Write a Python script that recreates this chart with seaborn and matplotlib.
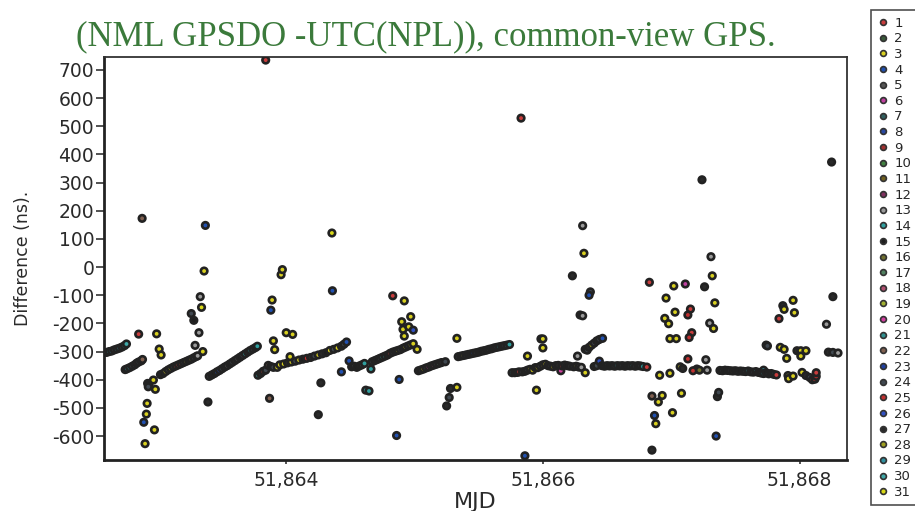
import numpy as np
import pandas as pd
import matplotlib
matplotlib.use("Agg")
import matplotlib.pyplot as plt
from matplotlib.lines import Line2D
from matplotlib.ticker import FuncFormatter
import seaborn as sns

# ---------------- data ----------------
prn_labels = [str(i) for i in range(1, 32)]
prn_colors = ["#c83c3c", "#3a5a3a", "#d8d020", "#2050b0", "#555555", "#c040a0",
              "#306060", "#2848a0", "#a03030", "#408040", "#706020", "#803060",
              "#9a9a9a", "#30a0a0", "#1e1e1e", "#707030", "#508060", "#b05070",
              "#a0b030", "#d040a0", "#309090", "#806050", "#2040a0", "#404850",
              "#c03030", "#3050c0", "#2a2a2a", "#a0a020", "#3090a0", "#40a8a8",
              "#d8d818"]

# day 51862.6 - 51863.03
r1_mjd = [51862.600, 51862.620, 51862.640, 51862.660, 51862.680, 51862.700, 51862.720, 51862.740, 51862.755,
          51862.745, 51862.760, 51862.780, 51862.800, 51862.820, 51862.835, 51862.850, 51862.870, 51862.880,
          51862.877, 51862.850, 51862.920, 51862.930, 51862.925, 51862.965, 51862.980, 51862.916, 51862.910,
          51862.890, 51862.900, 51862.973, 51862.990, 51863.010, 51863.025]
r1_ns = [-303, -300, -298, -294, -291, -288, -284, -279, -273,
         -364, -361, -357, -352, -347, -341, -337, -333, -328,
         173, -238, -413, -418, -425, -401, -434, -484, -522,
         -551, -627, -578, -237, -291, -312]
r1_prn = [24, 14, 29, 24, 14, 29, 24, 14, 30,
          27, 14, 14, 24, 5, 1, 24, 5, 22,
          22, 1, 27, 15, 24, 3, 3, 3, 3,
          4, 3, 3, 3, 3, 3]

# day 51863.02 - 51863.40
r2_mjd = [51863.020, 51863.040, 51863.060, 51863.080, 51863.100, 51863.120, 51863.140, 51863.160,
          51863.180, 51863.200, 51863.220, 51863.240, 51863.260, 51863.280, 51863.300,
          51863.260, 51863.280, 51863.320, 51863.290, 51863.310, 51863.330, 51863.340, 51863.360,
          51863.370, 51863.350, 51863.390]
r2_ns = [-382, -378, -371, -365, -360, -355, -351, -347,
         -343, -339, -335, -331, -327, -322, -317,
         -165, -189, -233, -278, -315, -105, -143, -14,
         148, -300, -479]
r2_prn = [27, 15, 3, 24, 31, 24, 25, 1,
          9, 24, 16, 27, 11, 24, 22,
          24, 15, 13, 13, 13, 13, 31, 3,
          4, 3, 27]

# day 51863.40 - 51863.78
r3_mjd = [51863.400, 51863.420, 51863.440, 51863.460, 51863.480, 51863.500, 51863.520, 51863.540,
          51863.560, 51863.580, 51863.600, 51863.620, 51863.640, 51863.660, 51863.680, 51863.700,
          51863.720, 51863.740, 51863.760, 51863.775]
r3_ns = [-388, -383, -378, -372, -367, -361, -355, -350,
         -344, -338, -332, -326, -320, -314, -308, -302,
         -296, -291, -286, -281]
r3_prn = [24, 27, 15, 4, 8, 24, 27, 5,
          15, 24, 27, 5, 15, 24, 14, 27,
          21, 24, 15, 14]

# day 51863.78 - 51864.52
r4_mjd = [51863.780, 51863.800, 51863.820, 51863.840, 51863.860, 51863.880, 51863.900, 51863.930,
          51863.950, 51863.980, 51864.010, 51864.040, 51864.070, 51864.100, 51864.130, 51864.160,
          51864.190, 51864.220, 51864.250, 51864.280, 51864.310, 51864.340, 51864.370, 51864.400,
          51864.430, 51864.450, 51864.470,
          51864.030, 51864.490, 51864.430, 51864.510,
          51863.870, 51863.880, 51863.890, 51863.900, 51863.910, 51863.960, 51863.970, 51864.000,
          51864.050, 51864.270, 51864.250, 51864.356, 51864.360, 51863.840]
r4_ns = [-384, -378, -370, -366, -349, -353, -356, -356,
         -347, -344, -340, -337, -334, -330, -327, -324,
         -321, -316, -312, -308, -304, -296, -292, -287,
         -281, -274, -266,
         -318, -333, -372, -354,
         -466, -153, -117, -262, -293, -27, -9, -233,
         -239, -411, -524, 121, -84, 735]
r4_prn = [14, 27, 1, 24, 22, 27, 24, 3,
          3, 3, 27, 3, 24, 3, 15, 25,
          27, 24, 3, 27, 15, 3, 24, 3,
          27, 24, 4,
          3, 4, 4, 27,
          22, 4, 3, 3, 3, 3, 3, 3,
          3, 27, 27, 31, 4, 1]

# day 51864.50 - 51865.03
r5_mjd = [51864.530, 51864.550, 51864.570, 51864.590, 51864.610, 51864.660, 51864.620, 51864.645,
          51864.670, 51864.690, 51864.710, 51864.730, 51864.750, 51864.770, 51864.790, 51864.810,
          51864.830, 51864.850, 51864.870, 51864.890, 51864.910, 51864.930, 51864.950, 51864.970,
          51864.990,
          51864.830, 51864.920, 51864.970, 51864.900, 51864.910, 51864.955, 51864.990, 51864.920,
          51865.020, 51864.880, 51864.860]
r5_ns = [-352, -356, -351, -347, -342, -362, -437, -440,
         -336, -332, -328, -324, -320, -316, -312, -306,
         -302, -299, -296, -293, -288, -284, -280, -276,
         -272,
         -102, -120, -176, -194, -221, -212, -224, -245,
         -292, -399, -598]
r5_prn = [24, 15, 27, 24, 14, 14, 14, 14,
          24, 27, 15, 24, 14, 14, 27, 1,
          24, 27, 3, 24, 27, 3, 24, 3,
          3,
          1, 3, 3, 3, 3, 3, 26, 3,
          3, 4, 4]

# day 51865.03 - 51865.75
r6_mjd = [51865.030, 51865.050, 51865.070, 51865.090, 51865.110, 51865.130, 51865.150, 51865.170,
          51865.190, 51865.210, 51865.240,
          51865.250, 51865.270, 51865.280, 51865.330, 51865.330,
          51865.340, 51865.360, 51865.380, 51865.400, 51865.420, 51865.440, 51865.460, 51865.480,
          51865.500, 51865.520, 51865.540, 51865.560, 51865.580, 51865.600, 51865.620, 51865.640,
          51865.660, 51865.680, 51865.700, 51865.720, 51865.740]
r6_ns = [-368, -365, -362, -358, -355, -351, -348, -345,
         -342, -339, -336,
         -493, -463, -431, -427, -253,
         -318, -316, -314, -312, -310, -308, -306, -304,
         -302, -299, -297, -295, -292, -290, -287, -285,
         -283, -281, -279, -277, -275]
r6_prn = [27, 24, 3, 24, 20, 27, 18, 24,
          17, 27, 24,
          27, 24, 27, 3, 3,
          24, 27, 16, 24, 27, 15, 4, 24,
          27, 15, 24, 27, 24, 15, 27, 24,
          14, 27, 24, 30, 14]

# day 51865.76 - 51866.47
r7_mjd = [51865.760, 51865.780, 51865.800, 51865.815, 51865.840, 51865.860, 51865.880, 51865.900,
          51865.920, 51865.940, 51865.960, 51865.980, 51866.000, 51866.020, 51866.040, 51866.060,
          51866.080, 51866.100, 51866.120, 51866.140, 51866.150, 51866.170, 51866.190, 51866.210,
          51866.240, 51866.260, 51866.280, 51866.300, 51866.330,
          51865.830, 51865.860, 51865.880, 51865.950, 51865.985, 51866.000, 51866.000,
          51866.310, 51866.320, 51866.230, 51866.370, 51866.360, 51866.290, 51866.310, 51866.270,
          51866.330,
          51866.345, 51866.360, 51866.380, 51866.400, 51866.420, 51866.440, 51866.465]
r7_ns = [-375, -375, -374, -372, -372, -370, -366, -363,
         -366, -357, -357, -352, -347, -345, -350, -352,
         -354, -350, -349, -368, -351, -348, -350, -352,
         -354, -352, -355, -356, -375,
         529, -670, -316, -437, -255, -255, -287,
         147, 49, -31, -88, -100, -170, -173, -316,
         -292,
         -295, -285, -277, -270, -262, -257, -253]
r7_prn = [14, 27, 24, 1, 24, 27, 24, 3,
          3, 27, 3, 24, 3, 3, 27, 24,
          3, 24, 27, 20, 1, 24, 15, 27,
          24, 16, 13, 13, 3,
          1, 4, 3, 3, 3, 3, 3,
          13, 3, 27, 24, 4, 27, 13, 13,
          3,
          24, 27, 3, 24, 27, 24, 4]

# day 51866.40 - 51866.81
r8_mjd = [51866.400, 51866.420, 51866.440, 51866.460, 51866.480, 51866.500, 51866.520, 51866.540,
          51866.560, 51866.580, 51866.600, 51866.620, 51866.640, 51866.660, 51866.680, 51866.700,
          51866.720, 51866.740, 51866.760, 51866.780, 51866.810]
r8_ns = [-353, -350, -334, -350, -352, -350, -351, -350,
         -352, -350, -351, -350, -352, -350, -351, -350,
         -352, -350, -351, -353, -355]
r8_prn = [27, 24, 26, 15, 27, 24, 27, 15,
          24, 14, 27, 24, 15, 27, 24, 14,
          24, 27, 24, 14, 1]

# day 51866.83 - 51867.37 (scattered tracks)
r9_mjd = [51866.830, 51867.020, 51867.110, 51867.260, 51866.960, 51867.030, 51867.150, 51867.130,
          51866.950, 51866.980, 51866.990, 51867.040, 51867.160, 51867.140, 51867.300, 51867.330,
          51867.340, 51867.320, 51867.310, 51867.240, 51867.130, 51867.270, 51867.200, 51867.170,
          51867.220, 51867.280, 51867.070, 51867.090, 51866.990, 51866.910, 51866.850, 51866.930,
          51866.900, 51867.080, 51867.010, 51866.870, 51866.880, 51867.350, 51866.850, 51867.360,
          51867.370]
r9_ns = [-54, -67, -60, -70, -110, -160, -149, -170,
         -182, -201, -254, -254, -233, -250, -199, -218,
         -127, -31, 37, 310, -326, -329, -362, -368,
         -366, -366, -354, -360, -377, -384, -458, -456,
         -479, -448, -517, -527, -556, -600, -650, -460,
         -445]
r9_prn = [1, 3, 6, 27, 3, 3, 1, 25,
          3, 3, 3, 3, 1, 25, 13, 3,
          3, 3, 13, 27, 25, 13, 1, 25,
          16, 13, 3, 27, 3, 3, 22, 3,
          3, 3, 3, 4, 3, 4, 27, 27,
          24]

# day 51867.38 - 51868.37
r10_mjd = [51867.380, 51867.400, 51867.420, 51867.440, 51867.460, 51867.480, 51867.500, 51867.520,
           51867.540, 51867.560, 51867.580, 51867.600, 51867.620, 51867.640, 51867.660, 51867.680,
           51867.700, 51867.720, 51867.720, 51867.740, 51867.760, 51867.780, 51867.800, 51867.820,
           51867.740, 51867.750, 51867.840, 51867.870, 51867.880, 51867.950, 51867.960, 51867.850,
           51867.880, 51867.900, 51867.980, 51868.010, 51868.050, 51868.010, 51867.910, 51867.915,
           51867.950, 51868.020, 51868.050, 51868.080, 51868.100, 51868.120, 51868.130, 51868.130,
           51868.250, 51868.260, 51868.210, 51868.225, 51868.260, 51868.300]
r10_ns = [-367, -368, -366, -367, -368, -369, -368, -370,
          -369, -370, -371, -369, -372, -373, -371, -374,
          -376, -366, -378, -375, -379, -378, -381, -383,
          -277, -280, -183, -137, -150, -118, -162, -285,
          -292, -324, -297, -297, -297, -316, -385, -396,
          -387, -374, -385, -392, -400, -398, -388, -375,
          373, -105, -203, -302, -303, -305]
r10_prn = [27, 24, 15, 27, 24, 16, 27, 24,
           15, 27, 24, 14, 27, 24, 14, 27,
           24, 29, 14, 15, 24, 27, 14, 1,
           29, 24, 1, 27, 3, 3, 3, 3,
           3, 3, 27, 3, 3, 3, 16, 3,
           3, 3, 27, 24, 25, 1, 25, 1,
           27, 27, 13, 27, 24, 13]

title_text = "(NML GPSDO -UTC(NPL)), common-view GPS."
x_label = "MJD"
y_label = "Difference (ns)."
x_ticks = [51864, 51866, 51868]
y_ticks = list(range(-600, 701, 100))

# ---------------- build table ----------------
frames = []
for m, v, p in [(r1_mjd, r1_ns, r1_prn), (r2_mjd, r2_ns, r2_prn), (r3_mjd, r3_ns, r3_prn),
                (r4_mjd, r4_ns, r4_prn), (r5_mjd, r5_ns, r5_prn), (r6_mjd, r6_ns, r6_prn),
                (r7_mjd, r7_ns, r7_prn), (r8_mjd, r8_ns, r8_prn), (r9_mjd, r9_ns, r9_prn),
                (r10_mjd, r10_ns, r10_prn)]:
    frames.append(pd.DataFrame({"MJD": m, "Difference": v, "PRN": [str(q) for q in p]}))
df = pd.concat(frames, ignore_index=True)
palette = dict(zip(prn_labels, prn_colors))

# ---------------- style ----------------
sns.set_style("ticks")
plt.rcParams["font.family"] = ["DejaVu Sans"]
plt.rcParams["axes.unicode_minus"] = False

W, H = 915, 511
fig = plt.figure(figsize=(W / 100, H / 100), dpi=100)
fig.patch.set_facecolor("white")
ax = fig.add_axes([104 / W, 51 / H, 743 / W, 403 / H])

sns.scatterplot(data=df, x="MJD", y="Difference", hue="PRN", hue_order=prn_labels,
                palette=palette, s=22, edgecolor="#222222", linewidth=1.9,
                legend=False, ax=ax, zorder=3)

ax.set_xlim(51862.58, 51868.37)
ax.set_ylim(-685, 746)
ax.set_xticks(x_ticks)
ax.set_yticks(y_ticks)
ax.xaxis.set_major_formatter(FuncFormatter(lambda v, p: f"{int(round(v)):,}"))
ax.yaxis.set_major_formatter(FuncFormatter(lambda v, p: f"{int(round(v))}"))

for side in ["left", "bottom"]:
    ax.spines[side].set_linewidth(2.0)
    ax.spines[side].set_color("#222222")
for side in ["top", "right"]:
    ax.spines[side].set_linewidth(1.3)
    ax.spines[side].set_color("#333333")
    ax.spines[side].set_visible(True)

ax.tick_params(axis="y", direction="out", length=6, width=1.2, color="#333333",
               labelsize=13.5, labelcolor="#2a2a2a", pad=1)
ax.tick_params(axis="x", direction="out", length=3, width=1.2, color="#333333",
               labelsize=13.5, labelcolor="#2a2a2a", pad=5)

ax.set_xlabel(x_label, fontsize=16, color="#2a2a2a")
ax.set_ylabel(y_label, fontsize=12.5, color="#2a2a2a")
ax.xaxis.set_label_coords(0.5, -0.08)
ax.yaxis.set_label_coords(-0.097, 0.5)

fig.text(426 / W, 1 - 45 / H, title_text, ha="center", va="baseline",
         family=["Liberation Serif", "DejaVu Serif"], fontsize=25, color="#3b7a3b")

handles = [Line2D([], [], linestyle="", marker="o", markersize=4.2,
                  markerfacecolor=c, markeredgecolor="#333333", markeredgewidth=1.2)
           for c in prn_colors]
leg = fig.legend(handles, prn_labels, loc="upper left", bbox_to_anchor=(871 / W, 1 - 10 / H),
                 frameon=True, fancybox=False, fontsize=9.5, labelspacing=0.2,
                 handlelength=0.8, handletextpad=0.45, borderpad=0.5, borderaxespad=0)
leg.get_frame().set_edgecolor("#222222")
leg.get_frame().set_linewidth(1.2)

fig.savefig("out.png", dpi=100)
